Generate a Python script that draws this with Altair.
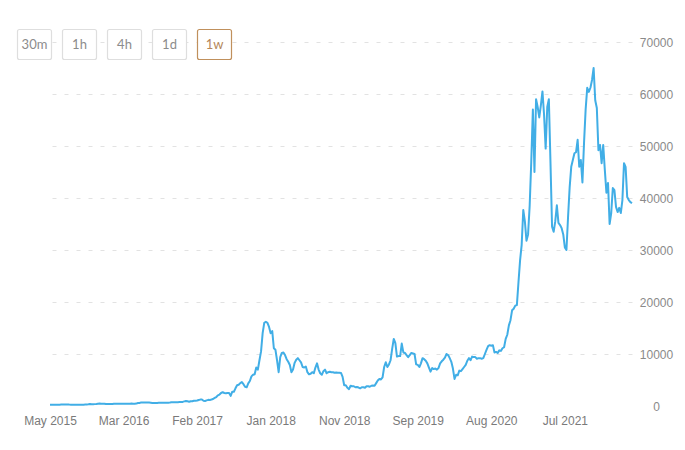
import altair as alt
import pandas as pd

# ---- weekly closing prices (USD) ----
price_2015 = [240, 237, 230, 225, 230, 245, 250, 270, 290, 280, 290, 285, 265, 260, 230, 228,
              240, 235, 232, 235, 240, 245, 265, 280, 325, 380, 330, 325, 360, 390, 435, 460,
              430, 430]
price_2016 = [450, 385, 400, 375, 375, 400, 438, 430, 412, 415, 410, 416, 420, 422, 430, 445,
              455, 460, 455, 440, 460, 570, 585, 690, 660, 670, 650, 665, 660, 625, 590, 570,
              580, 575, 605, 625, 610, 605, 612, 615, 640, 655, 700, 705, 705, 735, 740, 765,
              775, 790, 890, 960]
price_2017 = [900, 820, 920, 915, 1010, 1000, 1050, 1150, 1230, 1240, 1020, 970, 1080, 1180,
              1170, 1240, 1340, 1550, 1720, 2050, 2200, 2500, 2650, 2500, 2450, 2500, 2500,
              1950, 2750, 2750, 3400, 4000, 4100, 4400, 4600, 4200, 3700, 3600, 4350, 4800,
              5700, 6000, 6100, 7400, 7000, 8800, 10500, 14000, 16000, 16200, 16000, 15200]
price_2018 = [14000, 14400, 11100, 10800, 8800, 6500, 9400, 10200, 10300, 9800, 9000, 8500,
              7900, 6500, 7000, 8300, 8900, 9200, 8800, 8400, 7500, 7400, 7600, 6500, 6100,
              6200, 6500, 6300, 7400, 8200, 7000, 6300, 6000, 6700, 7000, 6300, 6500, 6600,
              6500, 6500, 6400, 6450, 6400, 6400, 6350, 5600, 4000, 4000, 3500, 3250, 3900, 3800]
price_2019 = [3800, 3600, 3650, 3550, 3400, 3600, 3600, 3500, 3800, 3800, 3700, 3900, 3950,
              3900, 4400, 4900, 5200, 5100, 5500, 7500, 8400, 7500, 8000, 8800, 11000, 12900,
              12100, 9500, 9600, 9600, 12000, 10300, 10200, 9800, 9400, 9800, 10200, 10100,
              10000, 8000, 7900, 7500, 8200, 9200, 9000, 8700, 8200, 7400, 6600, 7300, 7100, 7200]
price_2020 = [7000, 7300, 8200, 8600, 8900, 9300, 10000, 9800, 9200, 8500, 7200, 5200, 6000,
              5900, 6800, 6700, 7100, 7500, 7900, 8700, 9200, 8800, 9500, 9400, 9400, 9100,
              9200, 9200, 9100, 9200, 10000, 10800, 11500, 11700, 11600, 11700, 10300, 10400,
              10200, 10700, 10600, 11100, 11300, 12900, 13700, 15500, 16500, 18400, 18700,
              19300, 19400, 23800, 28000]
price_2021_22 = [31000, 37700, 35500, 31800, 33000, 38500, 47000, 57000, 45000, 59000, 57500,
                 55500, 57800, 60500, 56000, 49500, 57500, 59000, 47000, 34500, 33500, 35500,
                 38600, 35200, 34800, 34200, 33000, 30500, 30000, 36300, 42000, 46000, 47300,
                 48600, 48800, 51200, 46000, 47300, 43000, 50600, 57000, 61200, 60400, 61200,
                 62700, 65000, 58800, 57300, 49200, 50200, 46700, 50200, 45400, 41000, 42900,
                 35000, 37100, 41900, 41500, 38300, 37300, 38100, 37100, 39600, 46700, 46000,
                 40200, 39600, 39200, 39000]

prices = price_2015 + price_2016 + price_2017 + price_2018 + price_2019 + price_2020 + price_2021_22
dates = pd.date_range("2015-05-11", periods=len(prices), freq="7D")

x_labels = ["May 2015", "Mar 2016", "Feb 2017", "Jan 2018", "Nov 2018", "Sep 2019",
            "Aug 2020", "Jul 2021"]
label_step_weeks = 46
y_ticks = [0, 10000, 20000, 30000, 40000, 50000, 60000, 70000]
buttons = ["30m", "1h", "4h", "1d", "1w"]
active_button = "1w"

df = pd.DataFrame({"date": dates, "price": prices})

tick_dates = [dates[i * label_step_weeks] for i in range(len(x_labels))]
tick_values = [alt.DateTime(year=d.year, month=d.month, date=d.day) for d in tick_dates]
expr = "''"
for d, lab in reversed(list(zip(tick_dates, x_labels))):
    expr = f"(timeFormat(datum.value, '%Y-%m-%d') == '{d.strftime('%Y-%m-%d')}' ? '{lab}' : {expr})"

LINE_COLOR = "#41aee6"
AXIS_FONT = "Liberation Sans"

line = alt.Chart(df).mark_line(color=LINE_COLOR, strokeWidth=2, strokeJoin="round").encode(
    x=alt.X("date:T",
            scale=alt.Scale(domain=[alt.DateTime(year=dates[0].year, month=dates[0].month, date=dates[0].day),
                                    alt.DateTime(year=dates[-1].year, month=dates[-1].month, date=dates[-1].day)]),
            axis=alt.Axis(values=tick_values, labelExpr=expr, title=None, grid=False,
                          domain=False, ticks=False, tickSize=0, labelPadding=9,
                          labelFlush=False, labelOverlap=False, labelBound=False,
                          labelColor="#7a7a7a", labelFontSize=12, labelFont=AXIS_FONT)),
    y=alt.Y("price:Q",
            scale=alt.Scale(domain=[0, 70000], nice=False, zero=True),
            axis=alt.Axis(orient="right", values=y_ticks, title=None, domain=False, format="d",
                          ticks=False, tickSize=0, labelAlign="center", labelPadding=24,
                          labelColor="#8a8a8a", labelFontSize=12, labelFont=AXIS_FONT,
                          labelFlush=False,
                          grid=True, gridColor="#e2e2e2", gridDash=[4, 8], gridWidth=1,
                          gridOpacity={"condition": {"test": "datum.value === 0", "value": 0},
                                       "value": 1})),
)

# toolbar of interval buttons (drawn relative to the plot origin)
btn_left0, btn_step, btn_w, btn_top, btn_h = -33, 45, 34, -13, 30
layers = [line]
for i, b in enumerate(buttons):
    active = b == active_button
    left = btn_left0 + i * btn_step
    bd = pd.DataFrame({"label": [b]})
    rect = alt.Chart(bd).mark_rect(
        fill="white", stroke="#c0905c" if active else "#dedede", strokeWidth=1.2, cornerRadius=2
    ).encode(x=alt.value(left + 0.5), x2=alt.value(left + btn_w + 0.5),
             y=alt.value(btn_top + 0.5), y2=alt.value(btn_top + btn_h + 0.5))
    txt = alt.Chart(bd).mark_text(
        font="Lato", fontSize=13, color="#b5875a" if active else "#8c8c8c", baseline="middle"
    ).encode(x=alt.value(left + btn_w / 2 + 0.5), y=alt.value(btn_top + btn_h / 2 + 1),
             text="label:N")
    layers += [rect, txt]

chart = alt.layer(*layers).properties(
    width=582, height=364,
    autosize=alt.AutoSizeParams(type="none"),
    padding={"left": 42, "top": 34, "right": 45, "bottom": 36},
    background="white",
).configure_view(stroke=None)

chart.save("out.html", embed_options={"renderer": "svg", "actions": False})
